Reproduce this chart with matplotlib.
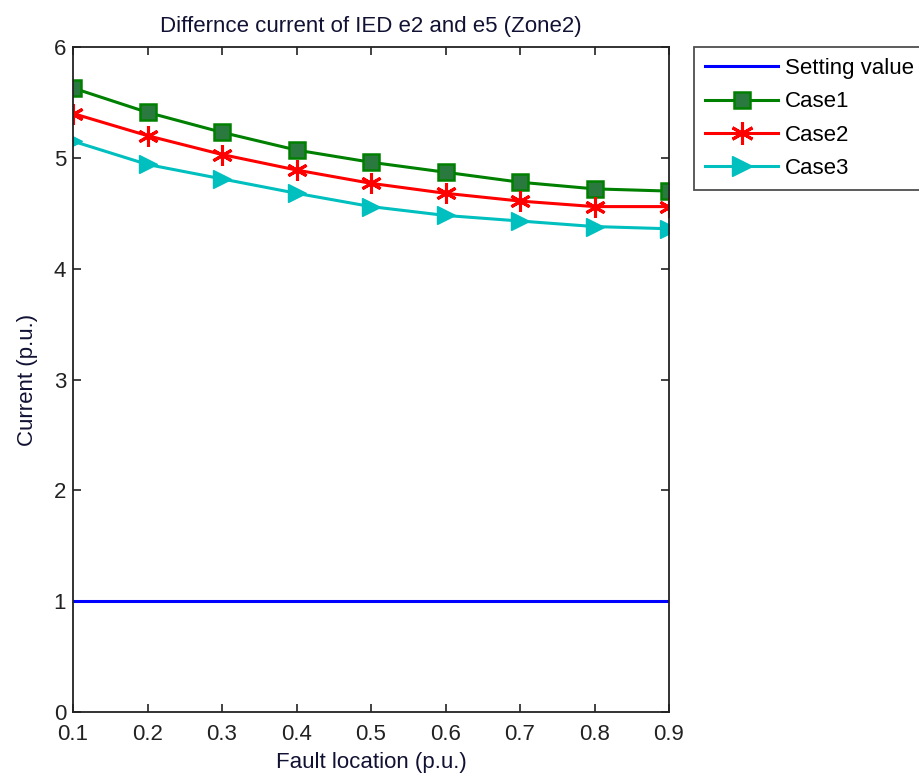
import matplotlib
matplotlib.use("Agg")
import matplotlib.pyplot as plt

plt.rcParams['font.family'] = ['Liberation Sans', 'DejaVu Sans']

fault_location = [0.1, 0.2, 0.3, 0.4, 0.5, 0.6, 0.7, 0.8, 0.9]
setting_value = [1.0] * len(fault_location)
case1 = [5.63, 5.41, 5.23, 5.07, 4.96, 4.87, 4.78, 4.72, 4.70]
case2 = [5.40, 5.20, 5.03, 4.89, 4.77, 4.68, 4.61, 4.56, 4.56]
case3 = [5.15, 4.94, 4.81, 4.68, 4.56, 4.48, 4.43, 4.38, 4.36]

x_ticks = [0.1, 0.2, 0.3, 0.4, 0.5, 0.6, 0.7, 0.8, 0.9]
y_ticks = [0, 1, 2, 3, 4, 5, 6]

W, H = 920, 778
fig = plt.figure(figsize=(W / 100, H / 100), dpi=100)
ax = fig.add_axes([73 / W, 1 - 712 / H, (669 - 73) / W, (712 - 47) / H])

ax.plot(fault_location, setting_value, color='#0000ff', lw=2.2, label='Setting value')
ax.plot(fault_location, case1, color='#008000', lw=2.2, marker='s', markersize=11,
        markerfacecolor='#2a7a40', markeredgecolor='#008000', markeredgewidth=1.8, label='Case1')
ax.plot(fault_location, case2, color='#ff0000', lw=2.2, marker=(6, 2, 0), markersize=15,
        markeredgecolor='#ff0000', markeredgewidth=2.2, label='Case2')
ax.plot(fault_location, case3, color='#00bfbf', lw=2.2, marker='>', markersize=13,
        markerfacecolor='#00bfbf', markeredgecolor='#00bfbf', label='Case3')

ax.set_xlim(0.1, 0.9)
ax.set_ylim(0, 6)
ax.set_xticks(x_ticks)
ax.set_xticklabels([f'{v:g}' for v in x_ticks])
ax.set_yticks(y_ticks)
ax.tick_params(direction='in', top=True, right=True, length=6, width=1.2,
               labelsize=16, colors='#222222')
ax.tick_params(axis='x', pad=9)
ax.tick_params(axis='y', pad=5)
for s in ax.spines.values():
    s.set_linewidth(1.3)
    s.set_color('#222222')

ax.set_title('Differnce current of IED e2 and e5 (Zone2)', fontsize=16, pad=11, color='#111133')
ax.set_xlabel('Fault location (p.u.)', fontsize=16, labelpad=5, color='#111133')
ax.set_ylabel('Current (p.u.)', fontsize=16, labelpad=11, color='#111133')

leg = fig.legend(loc='upper left', bbox_to_anchor=(694 / W, 1 - 47 / H),
                 bbox_transform=fig.transFigure, fontsize=16, frameon=True,
                 fancybox=False, borderaxespad=0, handlelength=3.3,
                 labelspacing=0.55, borderpad=0.5, handletextpad=0.3,
                 markerscale=1.1)
leg.get_frame().set_edgecolor('#222222')
leg.get_frame().set_linewidth(1.3)

fig.savefig('out.png', dpi=100)
